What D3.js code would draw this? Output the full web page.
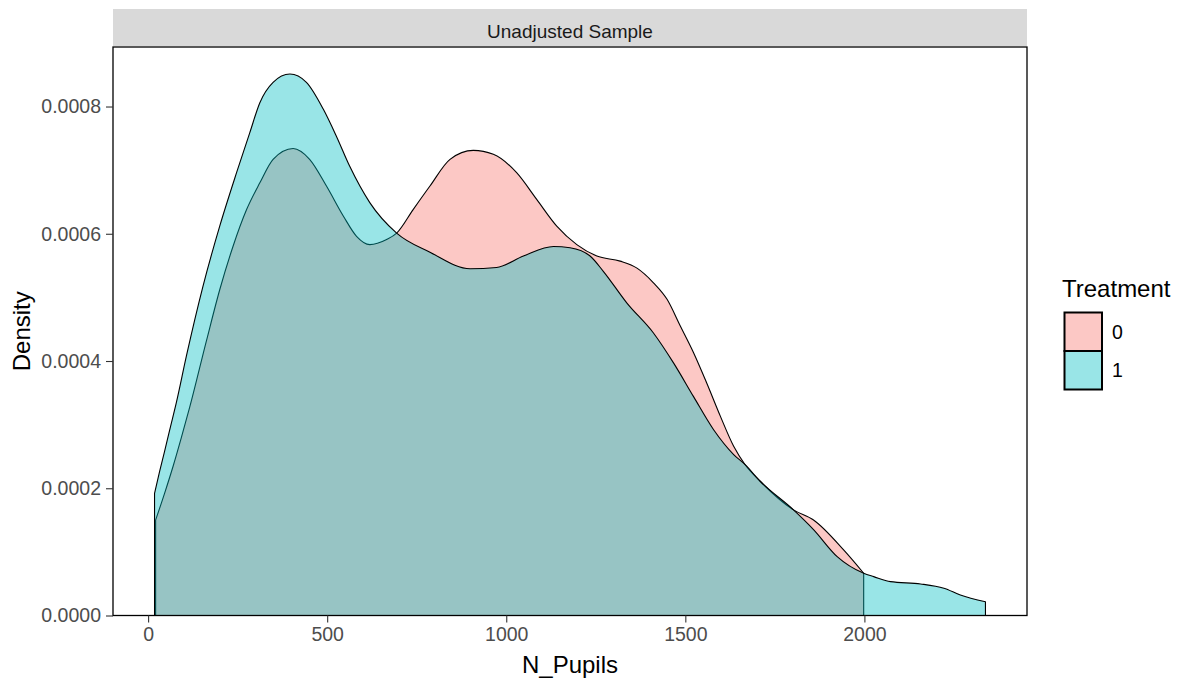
<!DOCTYPE html>
<html>
<head>
<meta charset="utf-8">
<script src="https://cdn.jsdelivr.net/npm/d3@7"></script>
<style>
  body { margin: 0; background: #fff; }
  svg { display: block; font-family: "Liberation Sans", Arial, sans-serif; }
</style>
</head>
<body>
<svg id="chart" width="1186" height="687"></svg>
<script>
// ---- data ----
const panelTitle = "Unadjusted Sample";
const xTitle = "N_Pupils";
const yTitle = "Density";
const legendTitle = "Treatment";
const groups = ["0", "1"];
const groupColors = ["#F8766D", "#00BFC4"];

const pupils0 = [21, 46, 70, 93, 116, 163, 200, 237, 275, 312, 349, 405, 451, 498, 545, 582, 619, 666, 694, 740, 787, 843, 908, 964, 1029, 1085, 1141, 1197, 1253, 1318, 1365, 1411, 1449, 1486, 1523, 1560, 1598, 1635, 1667, 1709, 1802, 1858, 1942, 1998];
const density0 = [0.000150, 0.000192, 0.000235, 0.000280, 0.000327, 0.000432, 0.000512, 0.000580, 0.000638, 0.000680, 0.000717, 0.000734, 0.000717, 0.000675, 0.000628, 0.000596, 0.000583, 0.000591, 0.000601, 0.000638, 0.000675, 0.000717, 0.000731, 0.000725, 0.000696, 0.000654, 0.000612, 0.000583, 0.000565, 0.000557, 0.000546, 0.000523, 0.000497, 0.000455, 0.000413, 0.000365, 0.000313, 0.000266, 0.000237, 0.000211, 0.000166, 0.000150, 0.000103, 0.0000664];

const pupils1 = [18, 32, 46, 60, 79, 107, 153, 200, 247, 284, 312, 349, 396, 442, 489, 526, 563, 619, 694, 787, 899, 973, 1048, 1132, 1178, 1234, 1271, 1337, 1411, 1467, 1523, 1579, 1635, 1667, 1709, 1802, 1858, 1924, 1998, 2026, 2073, 2157, 2222, 2268, 2338];
const density1 = [0.000192, 0.000226, 0.000258, 0.000291, 0.000335, 0.000408, 0.000517, 0.000612, 0.000696, 0.000759, 0.000806, 0.000838, 0.000851, 0.000838, 0.000796, 0.000753, 0.000706, 0.000649, 0.000601, 0.000571, 0.000545, 0.000547, 0.000565, 0.000580, 0.000578, 0.000565, 0.000541, 0.000491, 0.000444, 0.000397, 0.000344, 0.000292, 0.000253, 0.000237, 0.000211, 0.000166, 0.000135, 0.0000925, 0.0000664, 0.0000611, 0.0000532, 0.0000496, 0.0000428, 0.0000323, 0.0000217];

const xTicks = [0, 500, 1000, 1500, 2000];
const yTicks = [0, 0.0002, 0.0004, 0.0006, 0.0008];

// ---- layout ----
const svg = d3.select("#chart");
const panel = { left: 113, right: 1027, top: 47, bottom: 615.5 };
const strip = { top: 9, bottom: 46 };

const allX = pupils0.concat(pupils1);
const xMin = d3.min(allX), xMax = d3.max(allX);
const xPad = (xMax - xMin) * 0.05;
const x = d3.scaleLinear().domain([xMin - xPad, xMax + xPad]).range([panel.left, panel.right]);
const yMax = d3.max(density0.concat(density1)) * 1.05;
const y = d3.scaleLinear().domain([0, yMax]).range([panel.bottom, panel.top]);

// strip
svg.append("rect")
  .attr("x", panel.left).attr("y", strip.top)
  .attr("width", panel.right - panel.left).attr("height", strip.bottom - strip.top)
  .attr("fill", "#D9D9D9");
svg.append("text")
  .attr("x", (panel.left + panel.right) / 2).attr("y", 38)
  .attr("text-anchor", "middle").attr("font-size", 19)
  .attr("fill", "#1A1A1A").text(panelTitle);

// areas
const series = [
  { pts: pupils0.map((v, i) => [v, density0[i]]), color: groupColors[0] },
  { pts: pupils1.map((v, i) => [v, density1[i]]), color: groupColors[1] }
];
const area = d3.area()
  .x(d => x(d[0])).y0(y(0)).y1(d => y(d[1]))
  .curve(d3.curveMonotoneX);

const gPlot = svg.append("g");
series.forEach(s => {
  gPlot.append("path")
    .datum(s.pts)
    .attr("d", area)
    .attr("fill", s.color).attr("fill-opacity", 0.4)
    .attr("stroke", "#000").attr("stroke-width", 1.1)
    .attr("stroke-linejoin", "round");
});

// panel border
svg.append("rect")
  .attr("x", panel.left).attr("y", panel.top)
  .attr("width", panel.right - panel.left).attr("height", panel.bottom - panel.top)
  .attr("fill", "none").attr("stroke", "#000").attr("stroke-width", 1.3);

// axes
const xAxis = svg.append("g")
  .attr("transform", `translate(0,${panel.bottom})`)
  .call(d3.axisBottom(x).tickValues(xTicks).tickSize(7).tickPadding(5).tickFormat(d3.format("d")));
const yAxis = svg.append("g")
  .attr("transform", `translate(${panel.left},0)`)
  .call(d3.axisLeft(y).tickValues(yTicks).tickSize(7).tickPadding(5).tickFormat(d3.format(".4f")));
[xAxis, yAxis].forEach(g => {
  g.select(".domain").remove();
  g.selectAll(".tick line").attr("stroke", "#333333").attr("stroke-width", 1.1);
  g.selectAll(".tick text").attr("fill", "#4D4D4D").attr("font-size", 19.5)
    .attr("font-family", "Liberation Sans, Arial, sans-serif");
});

// axis titles
svg.append("text")
  .attr("x", (panel.left + panel.right) / 2).attr("y", 673)
  .attr("text-anchor", "middle").attr("font-size", 24).attr("fill", "#000")
  .text(xTitle);
svg.append("text")
  .attr("transform", `translate(30,${(panel.top + panel.bottom) / 2}) rotate(-90)`)
  .attr("text-anchor", "middle").attr("font-size", 24).attr("fill", "#000")
  .text(yTitle);

// legend
const legend = svg.append("g");
legend.append("text")
  .attr("x", 1062).attr("y", 297)
  .attr("font-size", 24).attr("fill", "#000").text(legendTitle);
const keyY = d3.scaleBand().domain(groups).range([312.5, 389.5]);
groups.forEach((gname, i) => {
  legend.append("rect")
    .attr("x", 1064.5).attr("y", keyY(gname))
    .attr("width", 37.5).attr("height", keyY.bandwidth())
    .attr("fill", groupColors[i]).attr("fill-opacity", 0.4)
    .attr("stroke", "#000").attr("stroke-width", 2);
  legend.append("text")
    .attr("x", 1112).attr("y", keyY(gname) + keyY.bandwidth() / 2)
    .attr("dy", "0.36em")
    .attr("font-size", 19.5).attr("fill", "#000").text(gname);
});
</script>
</body>
</html>
